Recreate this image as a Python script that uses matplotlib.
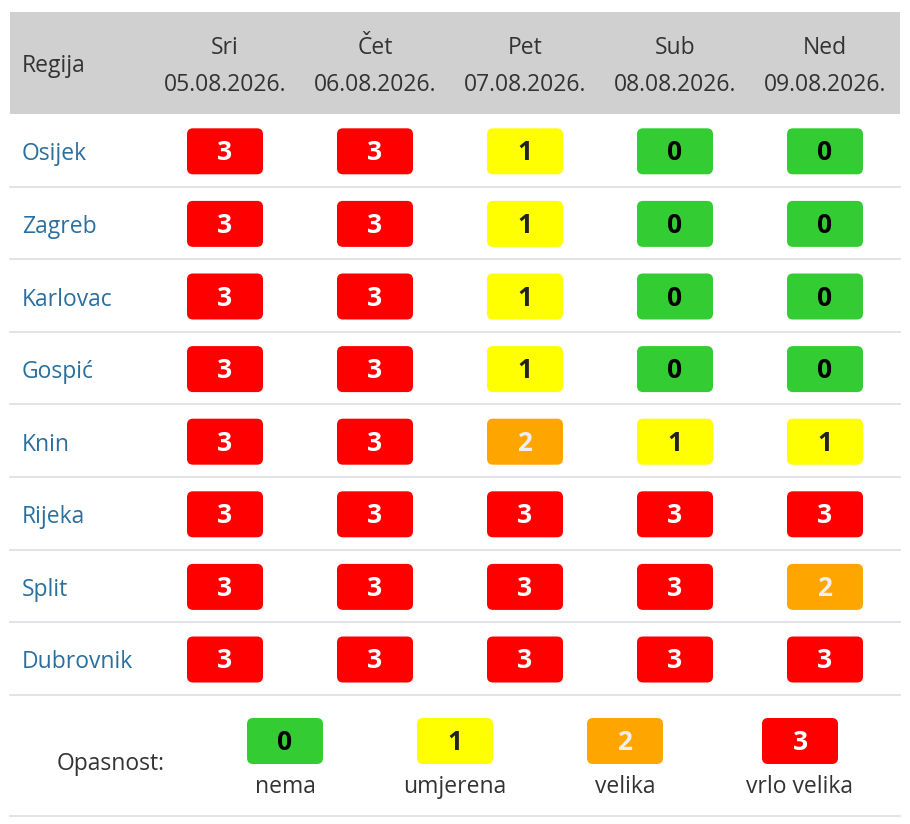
import matplotlib.pyplot as plt
from matplotlib.patches import FancyBboxPatch, Rectangle

regions = ["Osijek", "Zagreb", "Karlovac", "Gospić", "Knin", "Rijeka", "Split", "Dubrovnik"]
days = ["Sri", "Čet", "Pet", "Sub", "Ned"]
dates = ["05.08.2026.", "06.08.2026.", "07.08.2026.", "08.08.2026.", "09.08.2026."]
levels = [
    [3, 3, 1, 0, 0],
    [3, 3, 1, 0, 0],
    [3, 3, 1, 0, 0],
    [3, 3, 1, 0, 0],
    [3, 3, 2, 1, 1],
    [3, 3, 3, 3, 3],
    [3, 3, 3, 3, 2],
    [3, 3, 3, 3, 3],
]
legend_levels = [0, 1, 2, 3]
legend_labels = ["nema", "umjerena", "velika", "vrlo velika"]

fill = {0: "#33cc33", 1: "#ffff00", 2: "#ffa500", 3: "#ff0000"}
ink = {0: "#000000", 1: "#222222", 2: "#eeeeee", 3: "#ffffff"}

plt.rcParams["font.family"] = ["Open Sans", "DejaVu Sans"]

fig = plt.figure(figsize=(9.1, 8.24), dpi=100)
ax = fig.add_axes([0, 0, 1, 1])
ax.set_xlim(0, 910)
ax.set_ylim(824, 0)
ax.axis("off")

left, right = 10, 900
head_top, head_bot = 12, 114
row_h = 72.6
col_x0, col_w = 225, 150
bw, bh = 76, 46
fs = 16.5


def badge(cx, cy, lvl):
    ax.add_patch(FancyBboxPatch((cx - bw / 2 + 6, cy - bh / 2 + 6), bw - 12, bh - 12,
                                boxstyle="round,pad=6", fc=fill[lvl], ec="none"))
    ax.text(cx, cy + 1.5, str(lvl), ha="center", va="center", fontsize=19,
            fontweight="bold", color=ink[lvl])


# header
ax.add_patch(Rectangle((left, head_top), right - left, head_bot - head_top, fc="#d0d0d0", ec="none"))
ax.text(22, 66, "Regija", ha="left", va="center", fontsize=fs, color="#333333")
for j, (d, dt) in enumerate(zip(days, dates)):
    cx = col_x0 + j * col_w
    ax.text(cx, 48, d, ha="center", va="center", fontsize=fs, color="#333333")
    ax.text(cx, 85, dt, ha="center", va="center", fontsize=fs, color="#333333")

# rows
for i, name in enumerate(regions):
    top = head_bot + i * row_h
    cy = top + row_h / 2 + 1
    ax.text(22, cy + 3, name, ha="left", va="center", fontsize=fs, color="#2a6f9e")
    for j, lvl in enumerate(levels[i]):
        badge(col_x0 + j * col_w, cy, lvl)
    ax.plot([left, right], [top + row_h, top + row_h], color="#dcdee2", lw=1.2)

# legend
ax.text(111, 764, "Opasnost:", ha="center", va="center", fontsize=fs, color="#333333")
leg_x = [285, 455, 625, 800]
for x, lvl, lab in zip(leg_x, legend_levels, legend_labels):
    badge(x, 741, lvl)
    ax.text(x, 787, lab, ha="center", va="center", fontsize=fs, color="#333333")
ax.plot([left, right], [816, 816], color="#dcdee2", lw=1.2)

fig.savefig("out.png", dpi=100)
